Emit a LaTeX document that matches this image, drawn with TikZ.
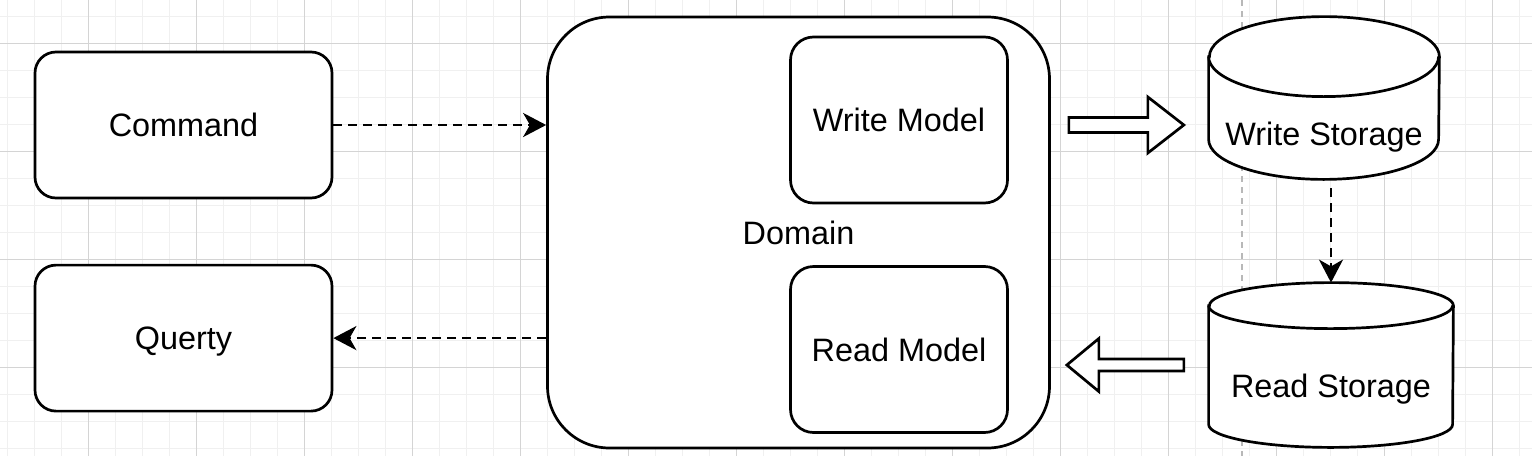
\documentclass[tikz,border=0pt]{standalone}
\usepackage{fontspec}
\setmainfont{Liberation Sans}
\usetikzlibrary{arrows.meta, calc, positioning}

\begin{document}
\begin{tikzpicture}[
	x=0.5pt, y=-0.5pt,
	texts/.style = {text=black, font=\fontsize{16.2pt}{19pt}\selectfont, text height=11.6pt, text depth=0pt},
	outline/.style = {draw=black, line width=1.35pt},
	boxnode/.style = {texts, outline, fill=white, rounded corners=10.5pt, minimum width=148.5pt, minimum height=73pt},
	domainnode/.style = {texts, outline, fill=white, rounded corners=31pt, minimum width=251pt, minimum height=215.5pt},
	modelnode/.style = {texts, outline, fill=white, rounded corners=11.5pt, minimum width=108.5pt, minimum height=83pt},
	storebox/.style = {inner sep=0pt, draw=none},
	flowline/.style = {draw=black, line width=1.35pt, dash pattern=on 4.5pt off 3pt, -{Stealth[length=11.5pt, width=12pt, inset=3.4pt]}},
	blockarrow/.style = {outline, fill=white, line join=miter},
	gridminor/.style = {draw=black!6, line width=0.5pt},
	gridmajor/.style = {draw=black!17, line width=0.5pt},
	divider/.style = {draw=black!28, line width=0.8pt, dash pattern=on 3pt off 2.5pt}
	]
	\useasboundingbox[fill=white] (0,0) rectangle (1532,456);
	
	% grid
	\foreach \gx in {0,...,56} \draw[gridminor] (7+27*\gx,0) -- (7+27*\gx,456);
	\foreach \gy in {0,...,16} \draw[gridminor] (0,16+27*\gy) -- (1532,16+27*\gy);
	\foreach \gx in {0,...,13} \draw[gridmajor] (88+108*\gx,0) -- (88+108*\gx,456);
	\foreach \gy in {0,...,3} \draw[gridmajor] (0,43+108*\gy) -- (1532,43+108*\gy);
	\draw[divider] (1242,0) -- (1242,456);
	
	\node[boxnode] (command) at (183.5,125) {Command};
	\node[boxnode, below=32.2pt of command] (query) {Querty};
	\node[domainnode] (domain) at (798.5,232.5) {Domain};
	\node[modelnode] (wmodel) at (899,120) {Write Model};
	\node[modelnode, below=30.4pt of wmodel] (rmodel) {Read Model};
	
	% storages
	\node[storebox, minimum width=115pt, minimum height=81pt] (wstore) at (1324,98) {};
	\draw[outline, fill=white] ($(wstore.north west)+(0,40)$) -- ($(wstore.south west)+(0,-40)$)
		arc[start angle=180, end angle=360, x radius=57.5pt, y radius=20pt]
		-- ($(wstore.north east)+(0,40)$)
		arc[start angle=0, end angle=180, x radius=57.5pt, y radius=20pt] -- cycle;
	\draw[outline] ($(wstore.north west)+(0,40)$) arc[start angle=180, end angle=360, x radius=57.5pt, y radius=20pt];
	\node[texts] (wstorelabel) at ($(wstore.south)+(0,-46)$) {Write Storage};
	
	\node[storebox, minimum width=122pt, minimum height=82pt] (rstore) at (1331,365) {};
	\draw[outline, fill=white] ($(rstore.north west)+(0,23)$) -- ($(rstore.south west)+(0,-23)$)
		arc[start angle=180, end angle=360, x radius=61pt, y radius=11.5pt]
		-- ($(rstore.north east)+(0,23)$)
		arc[start angle=0, end angle=180, x radius=61pt, y radius=11.5pt] -- cycle;
	\draw[outline] ($(rstore.north west)+(0,23)$) arc[start angle=180, end angle=360, x radius=61pt, y radius=11.5pt];
	\node[texts] (rstorelabel) at ($(rstore.south)+(0,-62)$) {Read Storage};
	
	% connectors
	\draw[flowline] (command.east) -- (command.east -| domain.west);
	\draw[flowline] (domain.west |- query.east) -- (query.east);
	\draw[flowline, shorten <=4.5pt] (wstore.south -| rstore.north) -- (rstore.north);
	
	\coordinate (wtail) at ($(domain.east |- command.east)+(18,0)$);
	\draw[blockarrow] (wtail) ++(0,-7.5) -- ++(79,0) -- ++(0,-20.5) -- ++(36,28) -- ++(-36,28) -- ++(0,-20.5) -- ++(-79,0) -- cycle;
	\coordinate (rtip) at ($(domain.east |- rstore.east)+(16,0)$);
	\draw[blockarrow] (rtip) -- ++(32,-26.5) -- ++(0,20.5) -- ++(85,0) -- ++(0,12) -- ++(-85,0) -- ++(0,20.5) -- cycle;
\end{tikzpicture}
\end{document}
